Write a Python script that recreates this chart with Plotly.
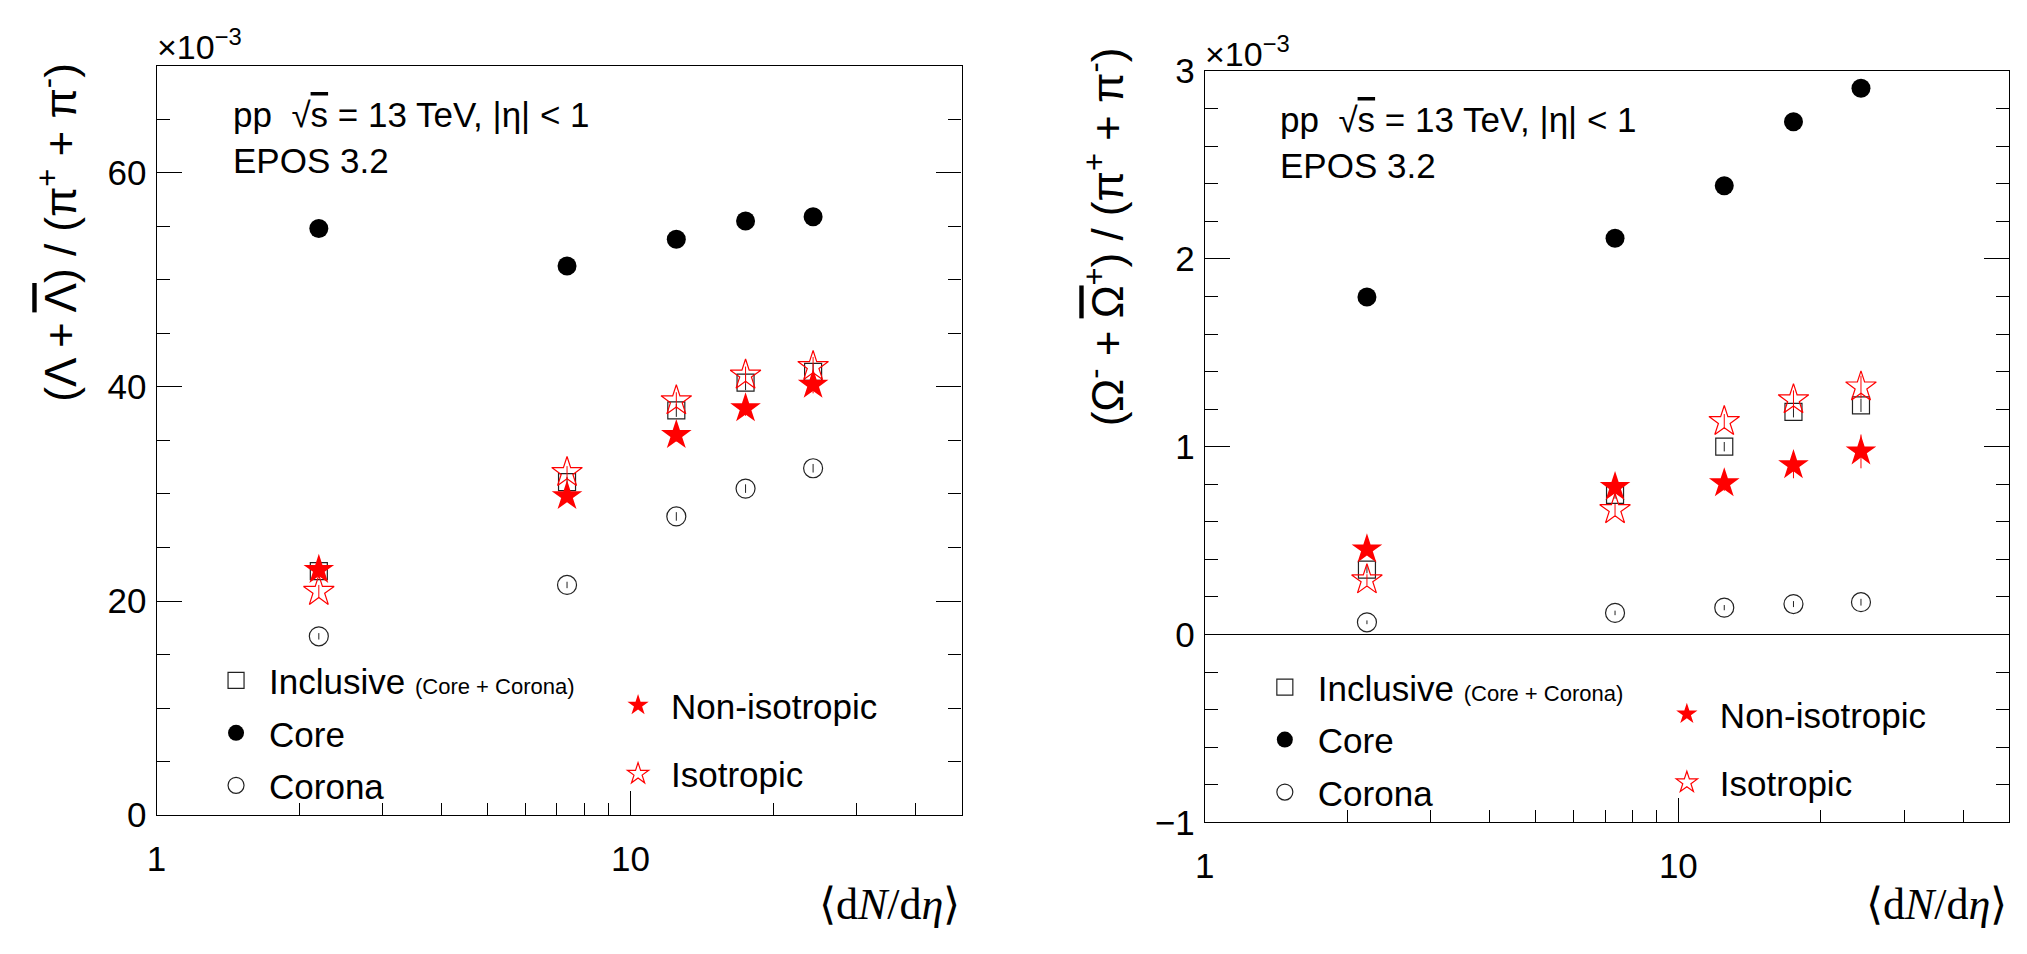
import plotly.graph_objects as go

# ---------------- data ----------------
dndeta = [2.2, 7.35, 12.5, 17.5, 24.3]

# (Lambda + anti-Lambda)/(pi+ + pi-)  in units of 1e-3
lam_incl = [22.8, 31.1, 37.8, 40.4, 41.4]
lam_incl_err = [0.4, 0.5, 0.6, 0.7, 0.8]
lam_core = [54.8, 51.3, 53.8, 55.5, 55.9]
lam_core_err = [0.2, 0.2, 0.2, 0.2, 0.2]
lam_corona = [16.7, 21.5, 27.9, 30.5, 32.4]
lam_corona_err = [0.3, 0.3, 0.4, 0.4, 0.4]
lam_noniso = [22.9, 29.8, 35.5, 38.0, 40.2]
lam_noniso_err = [0.5, 0.5, 0.6, 0.7, 0.8]
lam_iso = [20.9, 32.0, 38.7, 41.1, 41.9]
lam_iso_err = [0.6, 0.6, 0.8, 0.8, 0.9]

# (Omega- + anti-Omega+)/(pi+ + pi-)  in units of 1e-3
om_incl = [0.346, 0.743, 1.0, 1.186, 1.22]
om_incl_err = [0.02, 0.02, 0.025, 0.03, 0.035]
om_core = [1.797, 2.11, 2.39, 2.73, 2.909]
om_core_err = [0.01, 0.01, 0.01, 0.01, 0.01]
om_corona = [0.065, 0.115, 0.143, 0.162, 0.172]
om_corona_err = [0.01, 0.012, 0.014, 0.016, 0.018]
om_noniso = [0.453, 0.785, 0.805, 0.902, 0.975]
om_noniso_err = [0.03, 0.035, 0.04, 0.07, 0.09]
om_iso = [0.291, 0.665, 1.134, 1.25, 1.318]
om_iso_err = [0.03, 0.03, 0.04, 0.05, 0.06]

x_major = [1, 10]
x_major_text = ["1", "10"]
x_minor = [2, 3, 4, 5, 6, 7, 8, 9, 20, 30, 40]
lam_ticks = [0, 20, 40, 60]
om_ticks = [-1, 0, 1, 2, 3]
om_ticktext = ["\u22121", "0", "1", "2", "3"]

W, H = 2027, 954
SANS = "Liberation Sans, Arial, sans-serif"
SERIF = "Liberation Serif, Times New Roman, serif"
RED = "#ff0000"

fig = go.Figure()

series = [
    ("Inclusive <span style='font-size:22px'>(Core + Corona)</span>", "square-open", "#222222", 17, 1.2, 1),
    ("Core", "circle", "black", 19, 0, 1),
    ("Corona", "circle-open", "#222222", 19, 1.2, 1),
    ("Non-isotropic", "star", RED, 23, 0, 2),
    ("Isotropic", "star-open", RED, 23, 1.2, 2),
]
lam_data = [(lam_incl, lam_incl_err), (lam_core, lam_core_err), (lam_corona, lam_corona_err),
            (lam_noniso, lam_noniso_err), (lam_iso, lam_iso_err)]
om_data = [(om_incl, om_incl_err), (om_core, om_core_err), (om_corona, om_corona_err),
           (om_noniso, om_noniso_err), (om_iso, om_iso_err)]

for panel, data, xa, ya, legs in [(0, lam_data, "x", "y", ("legend", "legend2")),
                                  (1, om_data, "x2", "y2", ("legend3", "legend4"))]:
    for i, ((name, sym, col, size, lw, blk), (vals, errs)) in enumerate(zip(series, data)):
        fig.add_trace(go.Scatter(
            x=dndeta, y=vals, mode="markers", name=name,
            xaxis=xa, yaxis=ya,
            marker=dict(symbol=sym, color=col, size=size, line=dict(color=col, width=lw)),
            error_y=dict(type="data", array=errs, visible=True, width=0, thickness=1, color=col),
            legend=legs[blk - 1], legendgroup=f"p{panel}g{i}",
        ))

def xaxis_cfg(domain, anchor):
    return dict(type="log", range=[0, 1.69897], domain=domain, anchor=anchor,
                tickmode="array", tickvals=x_major, ticktext=x_major_text,
                ticks="inside", ticklen=24, tickwidth=1, tickcolor="black",
                minor=dict(tickmode="array", tickvals=x_minor, ticks="inside", ticklen=12,
                           tickwidth=1, tickcolor="black", showgrid=False),
                showline=True, linecolor="black", linewidth=1.2, mirror=True,
                showgrid=False, zeroline=False,
                tickfont=dict(family=SANS, size=35, color="black"),
                ticklabelstandoff=13)

def yaxis_cfg(domain, anchor, rng, tv, tt, mdt):
    return dict(range=rng, domain=domain, anchor=anchor,
                tickmode="array", tickvals=tv, ticktext=tt,
                ticks="inside", ticklen=25, tickwidth=1, tickcolor="black",
                minor=dict(dtick=mdt, tick0=0, ticks="inside", ticklen=13,
                           tickwidth=1, tickcolor="black", showgrid=False),
                showline=True, linecolor="black", linewidth=1.2, mirror="ticks",
                showgrid=False, zeroline=False,
                tickfont=dict(family=SANS, size=35, color="black"),
                ticklabelstandoff=2)

fig.update_layout(
    width=W, height=H,
    margin=dict(l=0, r=0, t=0, b=0),
    paper_bgcolor="white", plot_bgcolor="white",
    xaxis=xaxis_cfg([0.07267, 0.47178], "y"),
    yaxis=yaxis_cfg([0.13103, 0.95], "x", [0, 70], lam_ticks, [str(v) for v in lam_ticks], 5),
    xaxis2=xaxis_cfg([0.59235, 0.99127], "y2"),
    yaxis2=yaxis_cfg([0.12317, 0.94413], "x2", [-1, 3], om_ticks, om_ticktext, 0.2),
)

leg_common = dict(xanchor="left", yanchor="top", bgcolor="rgba(0,0,0,0)",
                  font=dict(family=SANS, size=35, color="black"), itemwidth=56,
                  traceorder="grouped", itemclick=False, itemdoubleclick=False)
fig.update_layout(
    legend=dict(x=194 / W, y=1 - 658 / H, tracegroupgap=4, **leg_common),
    legend2=dict(x=598 / W, y=1 - 684 / H, tracegroupgap=20, **leg_common),
    legend3=dict(x=1248 / W, y=1 - 665 / H, tracegroupgap=4, **leg_common),
    legend4=dict(x=1652 / W, y=1 - 693 / H, tracegroupgap=20, **leg_common),
)

# zero line in right panel
fig.add_shape(type="line", xref="x2 domain", yref="y2", x0=0, x1=1, y0=0, y1=0,
              line=dict(color="black", width=1.2))

ann = []
# exponent labels
ann.append(dict(text="\u00d710<sup>\u22123</sup>", xref="paper", yref="paper",
                x=146 / W, y=1 - 50 / H, xanchor="left", yanchor="bottom",
                showarrow=False, font=dict(family=SANS, size=34, color="black")))
ann.append(dict(text="\u00d710<sup>\u22123</sup>", xref="paper", yref="paper",
                x=1199 / W, y=1 - 57 / H, xanchor="left", yanchor="bottom",
                showarrow=False, font=dict(family=SANS, size=34, color="black")))
# info text (two lines, left aligned)
for x0, yc in [(222, 122), (1274, 128)]:
    ann.append(dict(text="pp  \u221a<span style='text-decoration:overline'>s</span> = 13 TeV, |\u03b7| < 1<br>EPOS 3.2",
                    xref="paper", yref="paper", x=x0 / W, y=1 - yc / H, align="left",
                    xanchor="left", yanchor="middle", showarrow=False,
                    font=dict(family=SANS, size=35, color="black")))
# y titles
ann.append(dict(text="(\u039b + <span style='text-decoration:overline'>\u039b</span>) / (\u03c0<sup>+</sup> + \u03c0<sup>-</sup>)",
                xref="paper", yref="paper", x=48 / W, y=1 - 221 / H, textangle=-90,
                xanchor="center", yanchor="middle", showarrow=False,
                font=dict(family=SANS, size=44, color="black")))
ann.append(dict(text="(\u03a9<sup>-</sup> + <span style='text-decoration:overline'>\u03a9</span><sup>+</sup>) / (\u03c0<sup>+</sup> + \u03c0<sup>-</sup>)",
                xref="paper", yref="paper", x=1100 / W, y=1 - 226 / H, textangle=-90,
                xanchor="center", yanchor="middle", showarrow=False,
                font=dict(family=SANS, size=44, color="black")))
# x titles
for xr in ["x domain", "x2 domain"]:
    ann.append(dict(text="\u27e8d<i>N</i>/d<i>\u03b7</i>\u27e9", xref=xr, yref="paper",
                    x=1, y=1 - 922 / H, xanchor="right", yanchor="middle", showarrow=False,
                    font=dict(family=SERIF, size=44, color="black")))
fig.update_layout(annotations=ann)

fig.write_html("out.html")
